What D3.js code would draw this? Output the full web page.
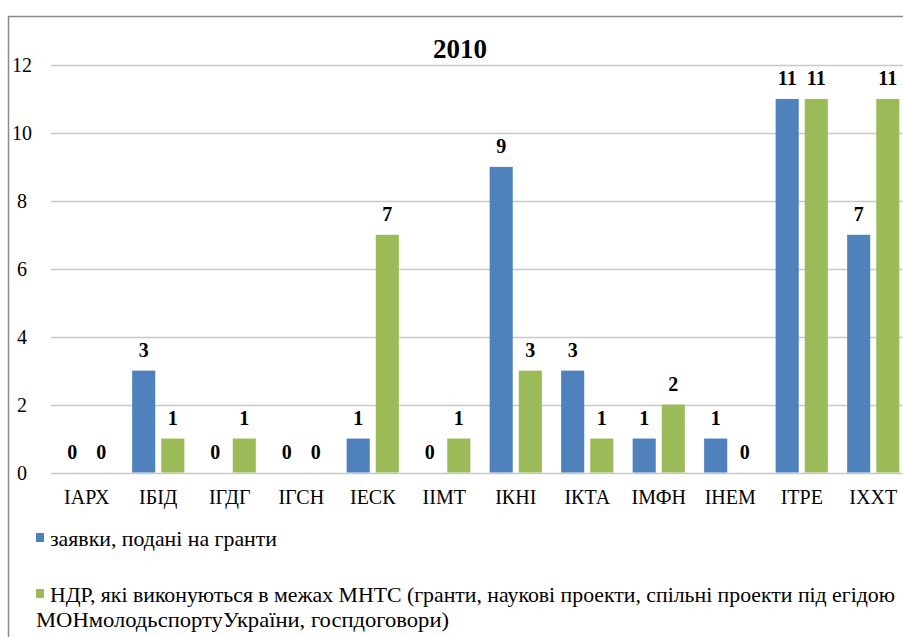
<!DOCTYPE html>
<html><head><meta charset="utf-8">
<script src="https://cdn.jsdelivr.net/npm/d3@7"></script>
<style>body{margin:0;background:#fff}svg{display:block}</style>
</head><body>
<svg id="c" width="903" height="637"></svg>
<script>
const title = "2010";
const categories = ["ІАРХ","ІБІД","ІГДГ","ІГСН","ІЕСК","ІІМТ","ІКНІ","ІКТА","ІМФН","ІНЕМ","ІТРЕ","ІХХТ"];
const seriesNames = ["заявки, подані на гранти","НДР, які виконуються в межах МНТС (гранти, наукові проекти, спільні проекти під егідою","МОНмолодьспортуУкраїни, госпдоговори)"];
const applications = [0,3,0,0,1,0,9,3,1,1,11,7];
const projects = [0,1,1,0,7,1,3,1,2,0,11,11];
const yTicks = [0,2,4,6,8,10,12];
const colors = ["#4F81BD","#9BBB59"];
const FONT = "Liberation Serif";

const svg = d3.select("#c");
svg.append("rect").attr("x",8.5).attr("y",16.5).attr("width",920).attr("height",640)
  .attr("fill","#fff").attr("stroke","#8a8a8a").attr("stroke-width",1.5);

const x = d3.scaleBand().domain(categories).range([51,909]).paddingInner(0.27).paddingOuter(0.135);
const xs = d3.scaleBand().domain([0,1]).range([0,x.bandwidth()]).paddingInner(0.2069);
const y = d3.scaleLinear().domain([0,12]).range([472.5,65]);

svg.append("g").selectAll("line").data(yTicks).join("line")
  .attr("x1",51).attr("x2",903).attr("y1",d=>Math.round(y(d))+0.5).attr("y2",d=>Math.round(y(d))+0.5)
  .attr("stroke","#c8c8c8").attr("stroke-width",1.5);
svg.append("g").selectAll("text").data(yTicks).join("text")
  .style("font-family",FONT)
  .attr("x",22).attr("y",d=>y(d)+7).attr("text-anchor","middle").attr("font-size",20).text(d=>d);

svg.append("text").attr("x",460).attr("y",58).attr("text-anchor","middle")
  .style("font-family",FONT)
  .attr("font-size",27).attr("font-weight","bold").text(title);

const series = [applications, projects];
series.forEach((vals,si)=>{
  const g = svg.append("g");
  g.selectAll("rect").data(vals).join("rect")
    .attr("x",(d,i)=>x(categories[i])+xs(si)).attr("width",xs.bandwidth())
    .attr("y",d=>y(d)).attr("height",d=>y(0)-y(d)).attr("fill",colors[si]);
  g.selectAll("text").data(vals).join("text")
    .style("font-family",FONT)
    .attr("x",(d,i)=>x(categories[i])+xs(si)+xs.bandwidth()/2)
    .attr("y",d=>y(d)-14).attr("text-anchor","middle")
    .attr("font-size",20).attr("font-weight","bold").text(d=>d);
});

svg.append("g").selectAll("text").data(categories).join("text")
  .style("font-family",FONT)
  .attr("x",d=>x(d)+x.bandwidth()/2).attr("y",504).attr("text-anchor","middle")
  .attr("font-size",20).text(d=>d);

svg.append("rect").attr("x",36).attr("y",533).attr("width",8).attr("height",9).attr("fill",colors[0]);
svg.append("text").attr("x",50).attr("y",546).attr("font-size",21).style("font-family",FONT)
  .attr("textLength",227).attr("lengthAdjust","spacingAndGlyphs").text(seriesNames[0]);
svg.append("rect").attr("x",36).attr("y",589).attr("width",8).attr("height",9).attr("fill",colors[1]);
svg.append("text").attr("x",50).attr("y",602).attr("font-size",21).style("font-family",FONT)
  .attr("textLength",845).attr("lengthAdjust","spacingAndGlyphs").text(seriesNames[1]);
svg.append("text").attr("x",36).attr("y",627).attr("font-size",21).style("font-family",FONT)
  .attr("textLength",413).attr("lengthAdjust","spacingAndGlyphs").text(seriesNames[2]);
</script>
</body></html>
